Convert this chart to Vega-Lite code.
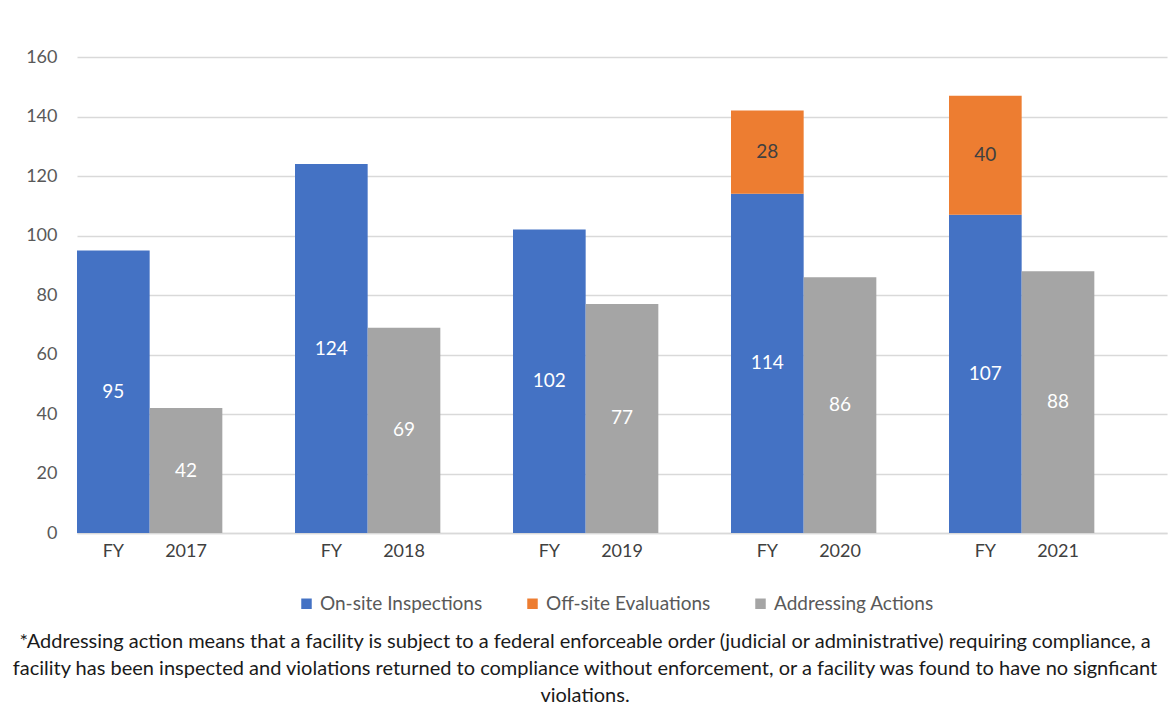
{
  "$schema": "https://vega.github.io/schema/vega-lite/v6.json",
  "width": 1090,
  "height": 476,
  "autosize": "none",
  "padding": {"left": 77, "top": 57, "right": 3, "bottom": 191},
  "background": "white",
  "config": {
    "view": {"stroke": null},
    "font": "Lato",
    "axis": {"labelFont": "Lato", "titleFont": "Lato"},
    "legend": {"labelFont": "Lato"}
  },
  "title": {
    "text": [
      "*Addressing action means that a facility is subject to a federal enforceable order (judicial or administrative) requiring compliance, a",
      "facility has been inspected and violations returned to compliance without enforcement, or a facility was found to have no signficant",
      "violations."
    ],
    "orient": "bottom",
    "anchor": "middle",
    "fontSize": 20,
    "fontWeight": "normal",
    "color": "#1a1a1a",
    "lineHeight": 27,
    "dx": -37,
    "offset": 18
  },
  "data": {
    "values": [
      {"year": "2017", "slot": "2017a", "series": "On-site Inspections", "k": 1, "value": 95},
      {"year": "2017", "slot": "2017b", "series": "Addressing Actions", "k": 3, "value": 42},
      {"year": "2018", "slot": "2018a", "series": "On-site Inspections", "k": 1, "value": 124},
      {"year": "2018", "slot": "2018b", "series": "Addressing Actions", "k": 3, "value": 69},
      {"year": "2019", "slot": "2019a", "series": "On-site Inspections", "k": 1, "value": 102},
      {"year": "2019", "slot": "2019b", "series": "Addressing Actions", "k": 3, "value": 77},
      {"year": "2020", "slot": "2020a", "series": "On-site Inspections", "k": 1, "value": 114},
      {"year": "2020", "slot": "2020a", "series": "Off-site Evaluations", "k": 2, "value": 28},
      {"year": "2020", "slot": "2020b", "series": "Addressing Actions", "k": 3, "value": 86},
      {"year": "2021", "slot": "2021a", "series": "On-site Inspections", "k": 1, "value": 107},
      {"year": "2021", "slot": "2021a", "series": "Off-site Evaluations", "k": 2, "value": 40},
      {"year": "2021", "slot": "2021b", "series": "Addressing Actions", "k": 3, "value": 88}
    ]
  },
  "transform": [
    {"stack": "value", "groupby": ["slot"], "sort": [{"field": "k", "order": "ascending"}], "as": ["v0", "v1"]},
    {"calculate": "(datum.v0 + datum.v1) / 2", "as": "mid"}
  ],
  "encoding": {
    "x": {
      "field": "slot",
      "type": "nominal",
      "scale": {
        "domain": ["2017a","2017b","2017g","2018a","2018b","2018g","2019a","2019b","2019g","2020a","2020b","2020g","2021a","2021b","2021g"],
        "paddingInner": 0,
        "paddingOuter": 0
      },
      "axis": {
        "title": null,
        "labelAngle": 0,
        "ticks": false,
        "grid": false,
        "domainColor": "#d9d9d9",
        "domainWidth": 1.5,
        "labelFontSize": 18,
        "labelColor": "#404040",
        "labelPadding": 9,
        "labelExpr": "slice(datum.value, 4) == 'a' ? 'FY' : (slice(datum.value, 4) == 'b' ? slice(datum.value, 0, 4) : '')"
      }
    }
  },
  "layer": [
    {
      "mark": {"type": "bar"},
      "encoding": {
        "y": {
          "field": "v0",
          "type": "quantitative",
          "scale": {"domain": [0, 160]},
          "axis": {
            "title": null,
            "values": [0, 20, 40, 60, 80, 100, 120, 140, 160],
            "ticks": false,
            "domain": false,
            "gridColor": "#d9d9d9",
            "gridWidth": 1.5,
            "labelFontSize": 18,
            "labelColor": "#595959",
            "labelPadding": 20
          }
        },
        "y2": {"field": "v1"},
        "color": {
          "field": "series",
          "type": "nominal",
          "scale": {
            "domain": ["On-site Inspections", "Off-site Evaluations", "Addressing Actions"],
            "range": ["#4472C4", "#ED7D31", "#A5A5A5"]
          },
          "legend": {
            "title": null,
            "orient": "none",
            "legendX": 220,
            "legendY": 537,
            "direction": "horizontal",
            "symbolType": "square",
            "symbolSize": 110,
            "symbolStrokeWidth": 0,
            "labelFontSize": 19,
            "labelLimit": 400,
            "labelColor": "#595959",
            "labelOffset": 4,
            "columnPadding": 40
          }
        }
      }
    },
    {
      "mark": {"type": "text", "fontSize": 19},
      "encoding": {
        "y": {"field": "mid", "type": "quantitative"},
        "text": {"field": "value", "type": "quantitative"},
        "color": {
          "condition": {"test": "datum.series === 'Off-site Evaluations'", "value": "#404040"},
          "value": "white"
        }
      }
    }
  ]
}
